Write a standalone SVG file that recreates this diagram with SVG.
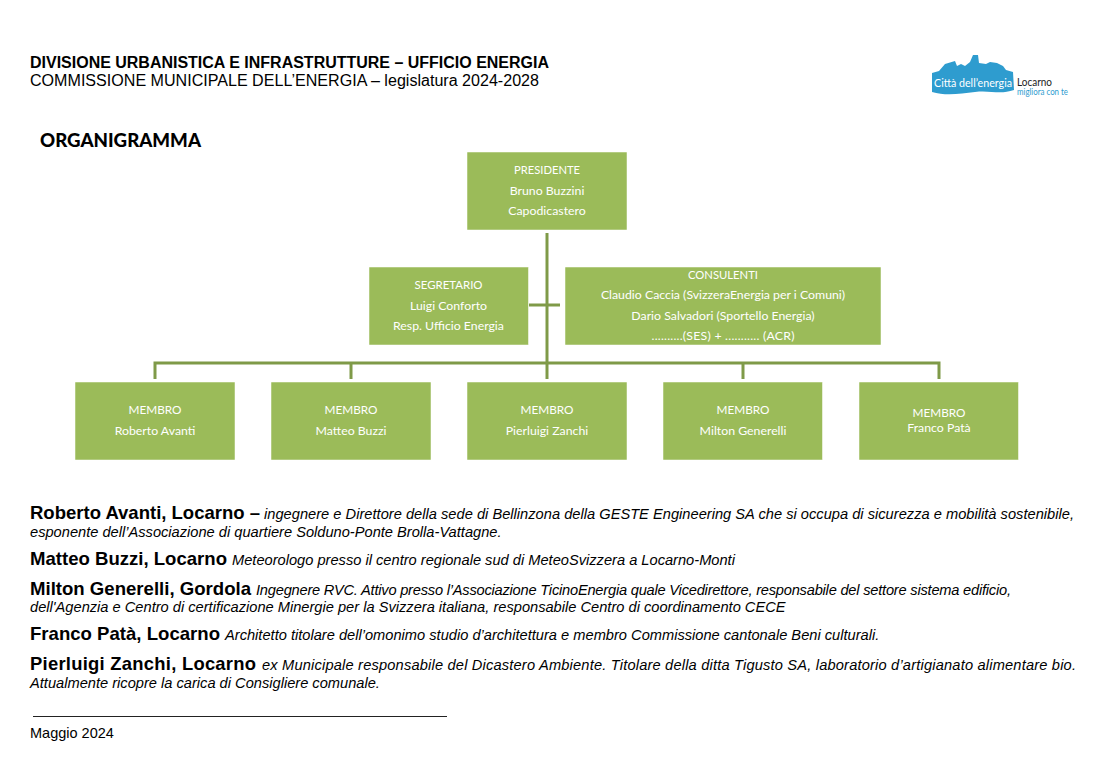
<svg xmlns="http://www.w3.org/2000/svg" width="1102" height="765" viewBox="0 0 1102 765">
<style>
text{font-family:"Liberation Sans",Arial,sans-serif;fill:#000}
.box{fill:#9BBB59;stroke:#fff;stroke-width:.5}
.lbl{font-family:Lato,"Noto Sans",sans-serif;font-size:12.3px;fill:#fff;text-anchor:middle}
.cn{stroke:#7F9A48;stroke-width:3;fill:none}
.nm{font-size:18.4px;font-weight:700}
.ds{font-size:14.65px;font-style:italic}
.hd{font-size:15.6px}
</style>
<rect width="1102" height="765" fill="#fff"/>
<g id="header">
<text x="30" y="68" class="hd" font-weight="700" textLength="519" lengthAdjust="spacingAndGlyphs">DIVISIONE URBANISTICA E INFRASTRUTTURE – UFFICIO ENERGIA</text>
<text x="30" y="86" class="hd" textLength="509" lengthAdjust="spacingAndGlyphs">COMMISSIONE MUNICIPALE DELL’ENERGIA – legislatura 2024-2028</text>
<text x="40" y="147" style="font-family:Lato,sans-serif;font-size:18.500px;font-weight:900" textLength="161" lengthAdjust="spacingAndGlyphs">ORGANIGRAMMA</text>
</g>
<g id="logo">
<path d="M932 73 L939 71 L945 64 L955 61 L957 66 L961 64 L965 66 L970 62 L973 55 L978 55 L979 63 L986 64 L990 62 L997 63 L1003 66 L1006 70 L1013 72 L1014 90 C1000 95 990 90 975 92 C960 94 945 96 932 92 Z" fill="#2E9CCF"/>
<text x="934" y="87" style="font-family:Lato,sans-serif;font-size:10.500px;fill:#fff" textLength="78" lengthAdjust="spacingAndGlyphs">Città dell’energia</text>
<text x="1017" y="86" style="font-family:Lato,sans-serif;font-size:10.500px;fill:#222" textLength="35" lengthAdjust="spacingAndGlyphs">Locarno</text>
<text x="1017" y="95" style="font-family:Lato,sans-serif;font-size:8.500px;fill:#2E9CCF" textLength="51" lengthAdjust="spacingAndGlyphs">migliora con te</text>
</g>
<g id="connectors">
<path class="cn" d="M547 233V379"/>
<path class="cn" d="M529 305H560"/>
<path class="cn" d="M155 379V363H939V379"/>
<path class="cn" d="M351 363V379M743 363V379"/>
</g>
<g id="presidente"><rect class="box" x="467" y="152" width="160" height="78"/>
<text class="lbl" x="547" y="174" textLength="66" lengthAdjust="spacingAndGlyphs">PRESIDENTE</text><text class="lbl" x="547" y="195">Bruno Buzzini</text><text class="lbl" x="547" y="215">Capodicastero</text></g>
<g id="segretario"><rect class="box" x="369" y="267" width="159.500" height="78"/>
<text class="lbl" x="448.500" y="289" textLength="68" lengthAdjust="spacingAndGlyphs">SEGRETARIO</text><text class="lbl" x="448.500" y="310">Luigi Conforto</text><text class="lbl" x="448.500" y="330">Resp. Ufficio Energia</text></g>
<g id="consulenti"><rect class="box" x="565" y="267" width="316" height="78"/>
<text class="lbl" x="723" y="279" textLength="70" lengthAdjust="spacingAndGlyphs">CONSULENTI</text><text class="lbl" x="723" y="299">Claudio Caccia (SvizzeraEnergia per i Comuni)</text><text class="lbl" x="723" y="320">Dario Salvadori (Sportello Energia)</text><text class="lbl" x="723" y="340" textLength="143" lengthAdjust="spacing">..........(SES) + ........... (ACR)</text></g>
<g id="m1"><rect class="box" x="75" y="382" width="160" height="78"/><text class="lbl" x="155" y="414" textLength="53" lengthAdjust="spacingAndGlyphs">MEMBRO</text><text class="lbl" x="155" y="435">Roberto Avanti</text></g>
<g id="m2"><rect class="box" x="271" y="382" width="160" height="78"/><text class="lbl" x="351" y="414" textLength="53" lengthAdjust="spacingAndGlyphs">MEMBRO</text><text class="lbl" x="351" y="435">Matteo Buzzi</text></g>
<g id="m3"><rect class="box" x="467" y="382" width="160" height="78"/><text class="lbl" x="547" y="414" textLength="53" lengthAdjust="spacingAndGlyphs">MEMBRO</text><text class="lbl" x="547" y="435">Pierluigi Zanchi</text></g>
<g id="m4"><rect class="box" x="663" y="382" width="159.500" height="78"/><text class="lbl" x="743" y="414" textLength="53" lengthAdjust="spacingAndGlyphs">MEMBRO</text><text class="lbl" x="743" y="435">Milton Generelli</text></g>
<g id="m5"><rect class="box" x="859" y="382" width="159.500" height="78"/><text class="lbl" x="939" y="417" textLength="53" lengthAdjust="spacingAndGlyphs">MEMBRO</text><text class="lbl" x="939" y="432">Franco Patà</text></g>
<g id="bios">
<text x="30" y="519" class="nm" textLength="230" lengthAdjust="spacingAndGlyphs">Roberto Avanti, Locarno –</text>
<text x="264" y="519" class="ds" textLength="810" lengthAdjust="spacing">ingegnere e Direttore della sede di Bellinzona della GESTE Engineering SA che si occupa di sicurezza e mobilità sostenibile,</text>
<text x="30" y="537" class="ds">esponente dell’Associazione di quartiere Solduno-Ponte Brolla-Vattagne.</text>
<text x="30" y="565" class="nm" textLength="197" lengthAdjust="spacingAndGlyphs">Matteo Buzzi, Locarno</text>
<text x="232" y="565" class="ds">Meteorologo presso il centro regionale sud di MeteoSvizzera a Locarno-Monti</text>
<text x="30" y="595" class="nm" textLength="221" lengthAdjust="spacingAndGlyphs">Milton Generelli, Gordola</text>
<text x="256" y="595" class="ds" textLength="755" lengthAdjust="spacing">Ingegnere RVC. Attivo presso l’Associazione TicinoEnergia quale Vicedirettore, responsabile del settore sistema edificio,</text>
<text x="30" y="612" class="ds">dell'Agenzia e Centro di certificazione Minergie per la Svizzera italiana, responsabile Centro di coordinamento CECE</text>
<text x="30" y="640" class="nm" textLength="190" lengthAdjust="spacingAndGlyphs">Franco Patà, Locarno</text>
<text x="225" y="640" class="ds">Architetto titolare dell’omonimo studio d’architettura e membro Commissione cantonale Beni culturali.</text>
<text x="30" y="670" class="nm" textLength="226" lengthAdjust="spacing">Pierluigi Zanchi, Locarno</text>
<text x="262" y="670" class="ds" textLength="814" lengthAdjust="spacing">ex Municipale responsabile del Dicastero Ambiente. Titolare della ditta Tigusto SA, laboratorio d’artigianato alimentare bio.</text>
<text x="30" y="688" class="ds">Attualmente ricopre la carica di Consigliere comunale.</text>
</g>
<g id="footer">
<path d="M33 716.500H447" stroke="#222" stroke-width="1.200"/>
<text x="30" y="738" style="font-size:14.5px">Maggio 2024</text>
</g>
</svg>
